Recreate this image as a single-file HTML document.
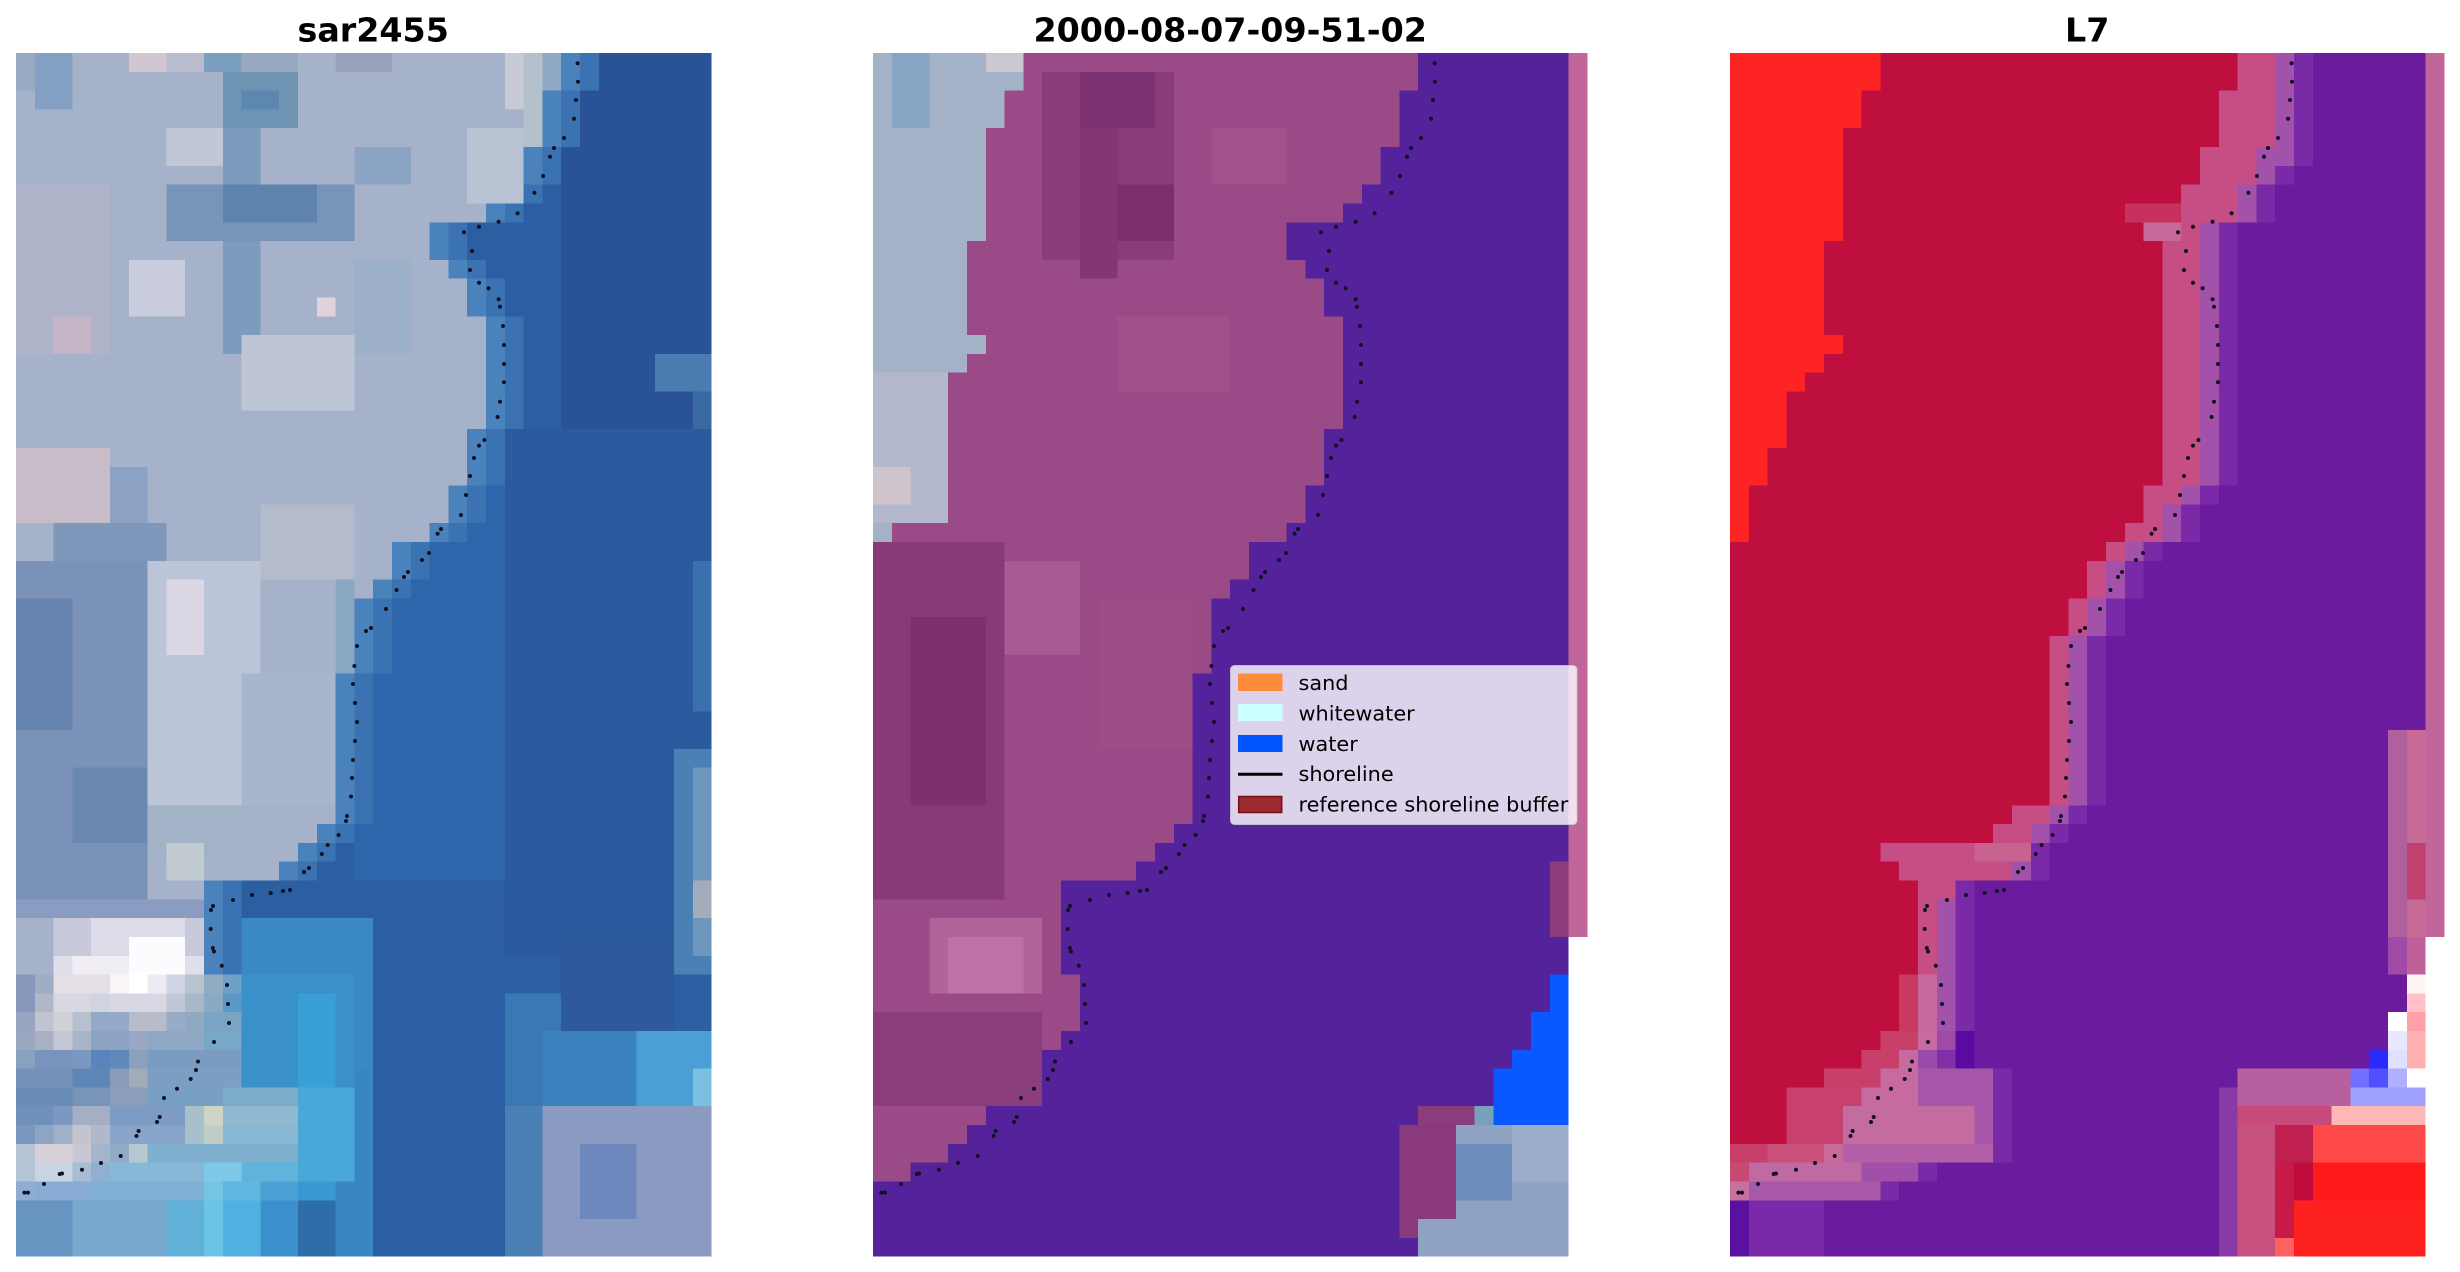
<!DOCTYPE html>
<html><head><meta charset="utf-8"><style>html,body{margin:0;padding:0;background:#fff;}svg{display:block}</style></head>
<body>
<svg width="2460" height="1272" viewBox="0 0 2460 1272" xmlns="http://www.w3.org/2000/svg">
<defs>
<path id="land" d="M0,0 H29 V2 H28 V5 H27 V7 H26 V8 H25 V9 H22 V11 H23 V12 H24 V14 H25 V20 H24 V23 H23 V25 H22 V26 H20 V28 H19 V29 H18 V33 H17 V41 H16 V42 H15 V43 H14 V44 H10 V49 H11 V52 H10 V53 H9 V54 H8 V55 H7 V56 H6 V57 H5 V58 H4 V59 H2 V60 H0 Z"/>
<path id="lb" d="M0,0 H8 V2 H7 V4 H6 V10 H5 V15 H6 V16 H5 V17 H4 V19 H3 V21 H2 V23 H1 V26 H0 Z"/>
<path id="red" d="M0,0 H8 V2 H7 V4 H6 V10 H5 V15 H6 V16 H5 V17 H4 V18 H3 V21 H2 V23 H1 V26 H0 Z"/>
<path id="p3" d="M0,0 H30 V6 H29 V7 H28 V9 H26 V23 H25 V24 H24 V26 H22 V27 H21 V29 H20 V31 H19 V40 H18 V41 H17 V42 H16 V44 H12 V54 H14 V59 H10 V60 H8 V61 H0 Z"/>
<path id="m3" d="M0,0 H29 V5 H28 V7 H27 V9 H25 V23 H24 V24 H23 V26 H21 V27 H20 V29 H19 V31 H18 V40 H17 V41 H16 V42 H15 V44 H12 V45 H11 V53 H10 V54 H9 V55 H12 V58 H6 V59 H7 V60 H2 V61 H0 Z"/>
<path id="k3" d="M0,0 H27 V2 H26 V5 H25 V7 H24 V9 H22 V10 H23 V23 H22 V25 H21 V26 H20 V27 H19 V29 H18 V31 H17 V40 H15 V41 H14 V42 H8 V43 H9 V44 H10 V49 H9 V52 H8 V53 H7 V54 H5 V55 H3 V58 H0 Z"/>
<g id="dots" fill="#111122">
<circle cx="561.6" cy="10.3" r="2"/><circle cx="562" cy="28.7" r="2"/><circle cx="560" cy="47" r="2"/><circle cx="558" cy="65.7" r="2"/><circle cx="548" cy="85" r="2"/><circle cx="538" cy="95" r="2"/><circle cx="534" cy="103.7" r="2"/><circle cx="527" cy="123" r="2"/><circle cx="518.4" cy="139.7" r="2"/><circle cx="501.6" cy="160.3" r="2"/><circle cx="482.6" cy="168.7" r="2"/><circle cx="463" cy="173.7" r="2"/><circle cx="448" cy="179.3" r="2"/><circle cx="456" cy="198" r="2"/><circle cx="454" cy="217" r="2"/><circle cx="463" cy="229.7" r="2"/><circle cx="472.6" cy="235.3" r="2"/><circle cx="482.6" cy="246.3" r="2"/><circle cx="484" cy="253.7" r="2"/><circle cx="487" cy="273" r="2"/><circle cx="488" cy="292" r="2"/><circle cx="488" cy="311" r="2"/><circle cx="488" cy="329.3" r="2"/><circle cx="484" cy="348.7" r="2"/><circle cx="481.6" cy="364" r="2"/><circle cx="468.4" cy="387" r="2"/><circle cx="463" cy="392.6" r="2"/><circle cx="458" cy="405" r="2"/><circle cx="454" cy="423" r="2"/><circle cx="450" cy="442" r="2"/><circle cx="445" cy="462" r="2"/><circle cx="425" cy="476" r="2"/><circle cx="421.6" cy="480.7" r="2"/><circle cx="413" cy="500" r="2"/><circle cx="406" cy="507" r="2"/><circle cx="392" cy="519" r="2"/><circle cx="388" cy="524" r="2"/><circle cx="380.5" cy="537" r="2"/><circle cx="370" cy="556" r="2"/><circle cx="355" cy="575" r="2"/><circle cx="350" cy="578" r="2"/><circle cx="341" cy="593" r="2"/><circle cx="338.4" cy="613" r="2"/><circle cx="337" cy="631" r="2"/><circle cx="339" cy="650" r="2"/><circle cx="341" cy="669" r="2"/><circle cx="339" cy="688" r="2"/><circle cx="337" cy="707" r="2"/><circle cx="336" cy="725" r="2"/><circle cx="335" cy="743.5" r="2"/><circle cx="331" cy="763" r="2"/><circle cx="330" cy="768" r="2"/><circle cx="322.6" cy="782" r="2"/><circle cx="311.6" cy="792" r="2"/><circle cx="305.8" cy="801" r="2"/><circle cx="293" cy="815" r="2"/><circle cx="288" cy="819" r="2"/><circle cx="274" cy="837" r="2"/><circle cx="267" cy="838" r="2"/><circle cx="254.7" cy="840" r="2"/><circle cx="236" cy="842" r="2"/><circle cx="217" cy="847" r="2"/><circle cx="197" cy="853" r="2"/><circle cx="195" cy="857" r="2"/><circle cx="194.7" cy="876" r="2"/><circle cx="196.8" cy="895" r="2"/><circle cx="198" cy="898.5" r="2"/><circle cx="205.8" cy="912.7" r="2"/><circle cx="211" cy="932" r="2"/><circle cx="212" cy="951" r="2"/><circle cx="213" cy="970" r="2"/><circle cx="198" cy="989" r="2"/><circle cx="182" cy="1008.5" r="2"/><circle cx="180" cy="1017" r="2"/><circle cx="174.7" cy="1026" r="2"/><circle cx="161" cy="1035.7" r="2"/><circle cx="148" cy="1045" r="2"/><circle cx="143.7" cy="1064" r="2"/><circle cx="141" cy="1069" r="2"/><circle cx="122.6" cy="1078" r="2"/><circle cx="120.5" cy="1083" r="2"/><circle cx="104.7" cy="1103" r="2"/><circle cx="85" cy="1110" r="2"/><circle cx="66" cy="1116.7" r="2"/><circle cx="46" cy="1120.5" r="2"/><circle cx="43.7" cy="1121" r="2"/><circle cx="28" cy="1131" r="2"/><circle cx="12" cy="1139.6" r="2"/><circle cx="8.4" cy="1139.6" r="2"/>
</g>
</defs>
<rect width="2460" height="1272" fill="#fff"/>

<g font-family="DejaVu Sans, Liberation Sans, sans-serif" font-weight="bold" font-size="33.3" text-anchor="middle" fill="#000">
<text x="373.2" y="41.5">sar2455</text>
<text x="1230.2" y="41.5">2000-08-07-09-51-02</text>
<text x="2087.2" y="41.5">L7</text>
</g>

<!-- PANEL 1 -->
<g transform="translate(16,53) scale(18.8,18.808)" shape-rendering="crispEdges">
<rect width="37" height="64" fill="#2c5ea2"/>
<rect x="29" y="0" width="8" height="22" fill="#2a5296"/>
<rect x="26" y="20" width="11" height="28" fill="#2b5a9e"/>
<rect x="18" y="14" width="8" height="30" fill="#2e66ac"/>
<rect x="34" y="16" width="3" height="2" fill="#4a7cb0"/>
<rect x="36" y="18" width="1" height="2" fill="#3a6aa4"/>
<rect x="36" y="27" width="1" height="8" fill="#3a70ac"/>
<rect x="35" y="37" width="2" height="12" fill="#4a80b4"/>
<rect x="36" y="38" width="1" height="10" fill="#6e96bc"/>
<rect x="36" y="44" width="1" height="2" fill="#a4acbc"/>
<rect x="11" y="46" width="8" height="10" fill="#3a88c4"/>
<rect x="13" y="49" width="4" height="8" fill="#3ca0d6"/>
<rect x="16" y="54" width="3" height="10" fill="#3a86c0"/>
<rect x="19" y="50" width="7" height="14" fill="#2c5ea4"/>
<rect x="26" y="50" width="3" height="14" fill="#3a78b4"/>
<rect x="29" y="47" width="6" height="5" fill="#2e5a9c"/>
<rect x="28" y="52" width="5" height="4" fill="#3a82be"/>
<rect x="33" y="52" width="4" height="4" fill="#4aa0d4"/>
<rect x="36" y="54" width="1" height="2" fill="#7ac0e0"/>
<rect x="28" y="56" width="9" height="8" fill="#8a9ac0"/>
<rect x="30" y="58" width="3" height="4" fill="#6c88bc"/>
<rect x="26" y="56" width="2" height="8" fill="#4a80b4"/>
<use href="#land" transform="translate(2,0)" fill="#3a72b2"/>
<use href="#land" transform="translate(1,0)" fill="#4a82bc"/>
<use href="#land" fill="#a6b2ca"/>
<rect x="0" y="0" width="1" height="2" fill="#98aac4"/>
<rect x="1" y="0" width="2" height="3" fill="#84a0c4"/>
<rect x="6" y="0" width="2" height="1" fill="#d2c6d0"/>
<rect x="8" y="0" width="2" height="1" fill="#b8bccc"/>
<rect x="10" y="0" width="2" height="1" fill="#7a9ec0"/>
<rect x="12" y="0" width="3" height="1" fill="#98a8c0"/>
<rect x="17" y="0" width="3" height="1" fill="#98a2bc"/>
<rect x="26" y="0" width="1" height="3" fill="#c8cad4"/>
<rect x="27" y="0" width="1" height="5" fill="#b4c0cc"/>
<rect x="28" y="0" width="1" height="2" fill="#8eaac4"/>
<rect x="11" y="1" width="4" height="3" fill="#6e94b4"/>
<rect x="12" y="2" width="2" height="1" fill="#5c88b0"/>
<rect x="8" y="4" width="3" height="2" fill="#c0c8d6"/>
<rect x="11" y="4" width="2" height="12" fill="#7c9cbe"/>
<rect x="8" y="7" width="10" height="3" fill="#7894b8"/>
<rect x="11" y="7" width="5" height="2" fill="#5e84ae"/>
<rect x="18" y="5" width="3" height="2" fill="#8ca4c4"/>
<rect x="24" y="4" width="3" height="4" fill="#b8c4d4"/>
<rect x="0" y="7" width="5" height="9" fill="#b0b4cb"/>
<rect x="2" y="14" width="2" height="2" fill="#c4b6c6"/>
<rect x="6" y="11" width="3" height="3" fill="#c8ccdc"/>
<rect x="16" y="13" width="1" height="1" fill="#e0d2dc"/>
<rect x="12" y="15" width="6" height="4" fill="#bec6d6"/>
<rect x="18" y="11" width="3" height="5" fill="#9cb0c8"/>
<rect x="0" y="21" width="5" height="4" fill="#c8bcc8"/>
<rect x="5" y="22" width="2" height="4" fill="#8ca2c4"/>
<rect x="2" y="25" width="6" height="3" fill="#7e98bc"/>
<rect x="0" y="27" width="7" height="18" fill="#7a92b8"/>
<rect x="0" y="29" width="3" height="7" fill="#6682ae"/>
<rect x="3" y="38" width="4" height="4" fill="#6a88b0"/>
<rect x="7" y="27" width="6" height="13" fill="#bcc4d8"/>
<rect x="8" y="28" width="2" height="4" fill="#dad6e4"/>
<rect x="12" y="33" width="5" height="7" fill="#a8b6cc"/>
<rect x="13" y="24" width="5" height="4" fill="#b4bccc"/>
<rect x="17" y="28" width="1" height="5" fill="#8aa8c4"/>
<rect x="7" y="40" width="6" height="3" fill="#a4b2c8"/>
<rect x="8" y="42" width="2" height="2" fill="#c2cad2"/>
<rect x="0" y="45" width="10" height="1" fill="#8a9cc0"/>
<rect x="2" y="46" width="8" height="2" fill="#c8cadc"/>
<rect x="4" y="46" width="5" height="2" fill="#dcdce8"/>
<rect x="2" y="48" width="8" height="1" fill="#e0dee8"/>
<rect x="3" y="48" width="6" height="1" fill="#f0eef4"/>
<rect x="6" y="47" width="3" height="2" fill="#fcfcfe"/>
<rect x="12" y="49" width="6" height="6" fill="#3a90c8"/>
<rect x="15" y="50" width="2" height="5" fill="#38a0d6"/>
<rect x="15" y="55" width="3" height="5" fill="#4aa8d8"/>
<rect x="15" y="60" width="2" height="1" fill="#3c98d0"/>
<g>
<rect x="0" y="49" width="1" height="1" fill="#8898bc"/><rect x="1" y="49" width="1" height="1" fill="#a0acc4"/><rect x="2" y="49" width="3" height="1" fill="#e6dee6"/><rect x="5" y="49" width="1" height="1" fill="#f8f4f8"/><rect x="6" y="49" width="1" height="1" fill="#ffffff"/><rect x="7" y="49" width="1" height="1" fill="#ecebf4"/><rect x="8" y="49" width="1" height="1" fill="#d0d4e4"/><rect x="9" y="49" width="1" height="1" fill="#b8c4d0"/><rect x="10" y="49" width="1" height="1" fill="#90acc0"/><rect x="11" y="49" width="1" height="1" fill="#6ea0c8"/>
<rect x="0" y="50" width="1" height="1" fill="#8898bc"/><rect x="1" y="50" width="1" height="1" fill="#b0b8c8"/><rect x="2" y="50" width="2" height="1" fill="#d8d8e0"/><rect x="4" y="50" width="1" height="1" fill="#d0d4e0"/><rect x="5" y="50" width="3" height="1" fill="#d8d8e4"/><rect x="8" y="50" width="1" height="1" fill="#c0c8d8"/><rect x="9" y="50" width="1" height="1" fill="#a8b8c8"/><rect x="10" y="50" width="1" height="1" fill="#8aaac4"/><rect x="11" y="50" width="1" height="1" fill="#5a98c8"/>
<rect x="0" y="51" width="1" height="1" fill="#98a4c0"/><rect x="1" y="51" width="1" height="1" fill="#c0c4d0"/><rect x="2" y="51" width="1" height="1" fill="#d0d0d8"/><rect x="3" y="51" width="1" height="1" fill="#b8c0d0"/><rect x="4" y="51" width="2" height="1" fill="#94a8c8"/><rect x="6" y="51" width="2" height="1" fill="#b8bcca"/><rect x="8" y="51" width="1" height="1" fill="#98acc8"/><rect x="9" y="51" width="1" height="1" fill="#90a8c0"/><rect x="10" y="51" width="2" height="1" fill="#7aa4c4"/>
<rect x="0" y="52" width="1" height="1" fill="#9ca8c0"/><rect x="1" y="52" width="1" height="1" fill="#a8b0c4"/><rect x="2" y="52" width="1" height="1" fill="#c4c8d4"/><rect x="3" y="52" width="1" height="1" fill="#a8b4c8"/><rect x="4" y="52" width="2" height="1" fill="#8ca4c4"/><rect x="6" y="52" width="1" height="1" fill="#98a8c4"/><rect x="7" y="52" width="3" height="1" fill="#8ea8c6"/><rect x="10" y="52" width="2" height="1" fill="#78a8c8"/>
<rect x="0" y="53" width="1" height="1" fill="#8aa0c0"/><rect x="1" y="53" width="2" height="1" fill="#7894bc"/><rect x="3" y="53" width="1" height="1" fill="#7a98c0"/><rect x="4" y="53" width="1" height="1" fill="#5a84bc"/><rect x="5" y="53" width="1" height="1" fill="#6088b8"/><rect x="6" y="53" width="1" height="1" fill="#8ca0bc"/><rect x="7" y="53" width="5" height="1" fill="#7a9cc0"/>
<rect x="0" y="54" width="3" height="1" fill="#7292ba"/><rect x="3" y="54" width="2" height="1" fill="#5e86b6"/><rect x="5" y="54" width="1" height="1" fill="#8a9cb8"/><rect x="6" y="54" width="1" height="1" fill="#a0acb8"/><rect x="7" y="54" width="5" height="1" fill="#7c9ec2"/>
<rect x="0" y="55" width="3" height="1" fill="#6a8cb8"/><rect x="3" y="55" width="2" height="1" fill="#7894b8"/><rect x="5" y="55" width="2" height="1" fill="#8a9eba"/><rect x="7" y="55" width="4" height="1" fill="#78a0c4"/><rect x="11" y="55" width="4" height="1" fill="#7cacc8"/>
<rect x="0" y="56" width="2" height="1" fill="#7090bc"/><rect x="2" y="56" width="1" height="1" fill="#7c98c0"/><rect x="3" y="56" width="2" height="1" fill="#a4aec4"/><rect x="5" y="56" width="4" height="1" fill="#7c9cc4"/><rect x="9" y="56" width="1" height="1" fill="#a8c0c8"/><rect x="10" y="56" width="1" height="1" fill="#d0d4c8"/><rect x="11" y="56" width="4" height="1" fill="#90b8d0"/>
<rect x="0" y="57" width="1" height="1" fill="#7a98c0"/><rect x="1" y="57" width="1" height="1" fill="#8ea4c4"/><rect x="2" y="57" width="1" height="1" fill="#a0b0c8"/><rect x="3" y="57" width="1" height="1" fill="#c4c4d0"/><rect x="4" y="57" width="1" height="1" fill="#b0b8cc"/><rect x="5" y="57" width="4" height="1" fill="#88a4c8"/><rect x="9" y="57" width="1" height="1" fill="#a8c0cc"/><rect x="10" y="57" width="1" height="1" fill="#c0ccc8"/><rect x="11" y="57" width="4" height="1" fill="#88b8d4"/>
<rect x="0" y="58" width="1" height="1" fill="#b8c4d4"/><rect x="1" y="58" width="2" height="1" fill="#d6d0d8"/><rect x="3" y="58" width="1" height="1" fill="#c8c8d4"/><rect x="4" y="58" width="1" height="1" fill="#a4b4cc"/><rect x="5" y="58" width="1" height="1" fill="#90acc8"/><rect x="6" y="58" width="1" height="1" fill="#b8c8d0"/><rect x="7" y="58" width="8" height="1" fill="#80b0d0"/>
<rect x="0" y="59" width="1" height="1" fill="#b4c4d8"/><rect x="1" y="59" width="2" height="1" fill="#c8d4e4"/><rect x="3" y="59" width="1" height="1" fill="#a8bcd4"/><rect x="4" y="59" width="1" height="1" fill="#90b0d0"/><rect x="5" y="59" width="5" height="1" fill="#88b8d8"/><rect x="10" y="59" width="2" height="1" fill="#7ec8e8"/><rect x="12" y="59" width="3" height="1" fill="#60b4dc"/>
<rect x="0" y="60" width="1" height="1" fill="#90acd0"/><rect x="1" y="60" width="3" height="1" fill="#88acd4"/><rect x="4" y="60" width="6" height="1" fill="#80b0d4"/><rect x="10" y="60" width="1" height="1" fill="#76c4e4"/><rect x="11" y="60" width="2" height="1" fill="#60b8e0"/><rect x="13" y="60" width="2" height="1" fill="#48a0d4"/>
<rect x="0" y="61" width="3" height="3" fill="#6894c2"/><rect x="3" y="61" width="5" height="3" fill="#78a8cc"/><rect x="8" y="61" width="2" height="3" fill="#60b0d8"/><rect x="10" y="61" width="1" height="3" fill="#6cc4e4"/><rect x="11" y="61" width="2" height="3" fill="#50b0e0"/><rect x="13" y="61" width="2" height="3" fill="#3c90cc"/><rect x="15" y="61" width="2" height="3" fill="#2e6ea8"/>
</g>
</g>
<use href="#dots" transform="translate(16,53)"/>

<!-- PANEL 2 -->
<g transform="translate(873,53) scale(18.8,18.808)" shape-rendering="crispEdges">
<rect width="37" height="64" fill="#54229a"/>
<rect x="37" y="0" width="1" height="47" fill="#c0669a"/>
<rect x="36" y="43" width="1" height="4" fill="#8c3c7c"/>
<use href="#land" fill="#9a4a86"/>
<rect x="9" y="1" width="7" height="10" fill="#8a3c7a"/>
<rect x="11" y="1" width="4" height="3" fill="#7c3272"/>
<rect x="11" y="7" width="5" height="3" fill="#7a2e6e"/>
<rect x="11" y="4" width="2" height="8" fill="#823676"/>
<rect x="18" y="4" width="4" height="3" fill="#a2528c"/>
<rect x="13" y="14" width="6" height="4" fill="#a0508a"/>
<rect x="0" y="26" width="7" height="19" fill="#883a78"/>
<rect x="2" y="30" width="4" height="10" fill="#7c3070"/>
<rect x="7" y="27" width="4" height="5" fill="#a85a92"/>
<rect x="12" y="29" width="5" height="8" fill="#9c4c86"/>
<rect x="3" y="46" width="6" height="4" fill="#b0649a"/>
<rect x="4" y="47" width="4" height="3" fill="#bc72a6"/>
<rect x="0" y="51" width="9" height="5" fill="#8a3c7c"/>
<use href="#lb" fill="#a4b2c8"/>
<rect x="1" y="0" width="2" height="4" fill="#88a4c4"/>
<rect x="6" y="0" width="2" height="1" fill="#ccc8d0"/>
<rect x="0" y="17" width="4" height="8" fill="#b4b8cc"/>
<rect x="0" y="22" width="2" height="2" fill="#d0c4cc"/>
<path d="M36,49 H37 V57 H33 V54 H34 V53 H35 V51 H36 Z" fill="#0a58ff"/>
<rect x="29" y="56" width="3" height="1" fill="#8c3c7c"/>
<rect x="32" y="56" width="1" height="1" fill="#7aa0c0"/>
<rect x="28" y="57" width="3" height="5" fill="#8a3a7c"/>
<rect x="28" y="62" width="1" height="1" fill="#8a3a7c"/>
<rect x="31" y="57" width="6" height="7" fill="#8ea2c4"/>
<rect x="29" y="62" width="2" height="2" fill="#8ea2c4"/>
<rect x="31" y="58" width="3" height="3" fill="#6c8cbc"/>
<rect x="34" y="57" width="3" height="3" fill="#9aaecc"/>
</g>
<use href="#dots" transform="translate(873,53)"/>

<!-- PANEL 3 -->
<g transform="translate(1730,53) scale(18.8,18.808)" shape-rendering="crispEdges">
<rect width="37" height="64" fill="#6b1c9e"/>
<rect x="37" y="0" width="1" height="47" fill="#c0669a"/>
<use href="#p3" transform="translate(1,0)" fill="#7a2aa6"/>
<use href="#p3" fill="#a252aa"/>
<use href="#m3" fill="#c64e84"/>
<use href="#k3" fill="#bf0f3e"/>
<use href="#red" fill="#ff2424"/>
<rect x="21" y="8" width="3" height="1" fill="#c8305e"/>
<rect x="22" y="9" width="2" height="1" fill="#c6689a"/>
<rect x="13" y="42" width="3" height="1" fill="#c8628e"/>
<rect x="9" y="49" width="1" height="3" fill="#c83a60"/>
<rect x="10" y="49" width="1" height="3" fill="#c868a0"/>
<rect x="8" y="52" width="2" height="1" fill="#c8406a"/><rect x="10" y="52" width="1" height="1" fill="#c66aa0"/><rect x="11" y="52" width="1" height="1" fill="#a04aa8"/><rect x="12" y="52" width="1" height="1" fill="#5a0aa0"/>
<rect x="7" y="53" width="2" height="1" fill="#c8406a"/><rect x="9" y="53" width="1" height="1" fill="#c66aa0"/><rect x="10" y="53" width="1" height="1" fill="#9a4aa8"/><rect x="11" y="53" width="1" height="1" fill="#8030a6"/><rect x="12" y="53" width="1" height="1" fill="#5a0aa0"/>
<rect x="5" y="54" width="3" height="1" fill="#c8406a"/><rect x="8" y="54" width="2" height="1" fill="#c66aa0"/><rect x="10" y="54" width="4" height="1" fill="#a656aa"/>
<rect x="3" y="55" width="4" height="1" fill="#c84070"/><rect x="7" y="55" width="3" height="1" fill="#c66aa0"/><rect x="10" y="55" width="4" height="1" fill="#a656aa"/>
<rect x="3" y="56" width="3" height="2" fill="#c84070"/><rect x="6" y="56" width="7" height="2" fill="#c46ca0"/><rect x="13" y="56" width="1" height="2" fill="#a656aa"/>
<rect x="0" y="58" width="2" height="1" fill="#c8406a"/><rect x="2" y="58" width="3" height="1" fill="#c8507a"/><rect x="5" y="58" width="1" height="1" fill="#c86a9a"/><rect x="6" y="58" width="8" height="1" fill="#b460a8"/>
<rect x="0" y="59" width="1" height="1" fill="#c84a74"/><rect x="1" y="59" width="6" height="1" fill="#c06aa4"/><rect x="7" y="59" width="3" height="1" fill="#a050a8"/>
<rect x="0" y="60" width="1" height="1" fill="#c870a0"/><rect x="1" y="60" width="7" height="1" fill="#a858a8"/>
<rect x="0" y="61" width="1" height="3" fill="#5a10a0"/><rect x="1" y="61" width="4" height="3" fill="#7a2aa8"/>
<rect x="35" y="36" width="1" height="11" fill="#b0609e"/>
<rect x="36" y="36" width="1" height="11" fill="#c86a96"/>
<rect x="36" y="42" width="1" height="3" fill="#c04070"/>
<rect x="35" y="47" width="1" height="2" fill="#a04aa8"/>
<rect x="36" y="47" width="1" height="2" fill="#c0609a"/>
<rect x="36" y="49" width="1" height="1" fill="#fff4f4"/>
<rect x="36" y="50" width="1" height="1" fill="#ffc0c8"/>
<rect x="35" y="51" width="1" height="1" fill="#ffffff"/>
<rect x="36" y="51" width="1" height="1" fill="#ffa0a8"/>
<rect x="35" y="52" width="1" height="1" fill="#e8e8ff"/>
<rect x="36" y="52" width="1" height="2" fill="#ffb0b0"/>
<rect x="34" y="53" width="1" height="1" fill="#2a2aff"/>
<rect x="35" y="53" width="1" height="1" fill="#e0e0ff"/>
<rect x="27" y="54" width="6" height="2" fill="#b85fa0"/>
<rect x="33" y="54" width="1" height="1" fill="#7070ff"/>
<rect x="34" y="54" width="1" height="1" fill="#5050ff"/>
<rect x="35" y="54" width="1" height="1" fill="#b0b0ff"/>
<rect x="36" y="54" width="1" height="1" fill="#ffffff"/>
<rect x="33" y="55" width="4" height="1" fill="#a0a0ff"/>
<rect x="26" y="55" width="1" height="9" fill="#8a3aa4"/>
<rect x="27" y="56" width="5" height="1" fill="#c84a7a"/>
<rect x="32" y="56" width="5" height="1" fill="#ffb8b8"/>
<rect x="27" y="57" width="2" height="7" fill="#c8507e"/>
<rect x="29" y="57" width="2" height="2" fill="#c02050"/>
<rect x="31" y="57" width="6" height="2" fill="#ff4848"/>
<rect x="29" y="59" width="1" height="5" fill="#c81a48"/>
<rect x="30" y="59" width="1" height="2" fill="#c00c3c"/>
<rect x="31" y="59" width="6" height="2" fill="#ff1a1a"/>
<rect x="30" y="61" width="7" height="3" fill="#ff2020"/>
<rect x="29" y="63" width="1" height="1" fill="#ff6060"/>
</g>
<use href="#dots" transform="translate(1730,53)"/>

<!-- LEGEND -->
<rect x="1230.5" y="665.5" width="346.5" height="159" rx="4" fill="#ffffff" fill-opacity="0.8" stroke="#cccccc" stroke-opacity="0.8" stroke-width="1"/>
<rect x="1238" y="673.5" width="44.5" height="17.5" fill="#ff8c3b"/>
<rect x="1238" y="704" width="44.5" height="17" fill="#ccffff"/>
<rect x="1238" y="735" width="44.5" height="17" fill="#0055ff"/>
<line x1="1238" y1="774.3" x2="1282.5" y2="774.3" stroke="#000" stroke-width="3"/>
<rect x="1238.7" y="796.5" width="43" height="16" fill="#992a30" stroke="#7e0c14" stroke-width="1.5"/>
<g font-family="DejaVu Sans, Liberation Sans, sans-serif" font-size="20.8" fill="#000">
<text x="1298.5" y="690">sand</text>
<text x="1298.5" y="720.5">whitewater</text>
<text x="1298.5" y="751">water</text>
<text x="1298.5" y="781">shoreline</text>
<text x="1298.5" y="811.5">reference shoreline buffer</text>
</g>
</svg>
</body></html>
